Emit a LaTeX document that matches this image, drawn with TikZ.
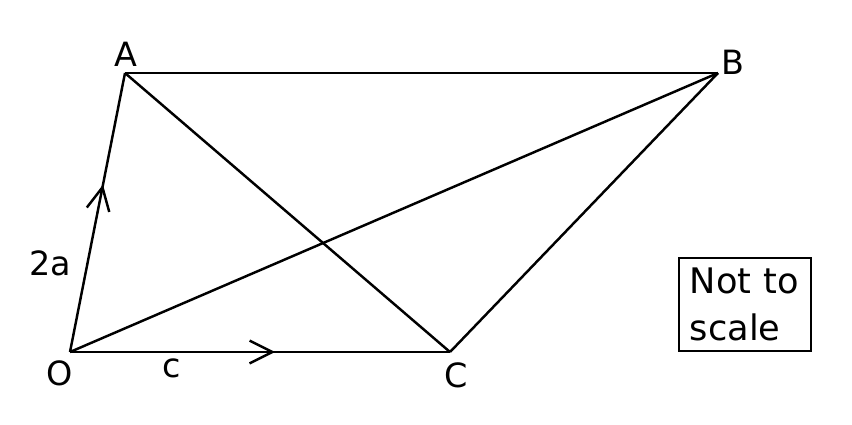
\documentclass[tikz,border=0pt]{standalone}
\usepackage{fontspec}
\setmainfont{DejaVu Sans}
\usetikzlibrary{arrows.meta,decorations.markings}
\begin{document}
\begin{tikzpicture}[x=0.01cm,y=-0.01cm,
  edge/.style={line width=0.7pt},
  lbl/.style={inner sep=0pt,font=\fontsize{9.5}{10}\selectfont},
  midarrow/.style={postaction={decorate},decoration={markings,
    mark=at position #1 with {\arrow{Straight Barb[length=6.5pt,width=6.5pt,line width=0.7pt]}}}}]
\useasboundingbox (0,0) rectangle (852,424);
\coordinate (O) at (70,352);
\coordinate (A) at (125,73);
\coordinate (B) at (718,73);
\coordinate (C) at (450,352);
\draw[edge,midarrow=0.6] (O) -- (A);
\draw[edge,midarrow=0.54] (O) -- (C);
\draw[edge] (A) -- (B);
\draw[edge] (A) -- (C);
\draw[edge] (O) -- (B);
\draw[edge] (C) -- (B);
\node[lbl] (lA) at (126,54) {A};
\node[lbl] (lB) at (733,62) {B};
\node[lbl] (lO) at (60,373) {O};
\node[lbl] (lC) at (456,375) {C};
\node[lbl] (lc) at (172,368) {c};
\node[lbl] (l2a) at (50,263) {2a};
\node[draw,edge,minimum width=1.32cm,minimum height=0.93cm,inner sep=0pt,
  font=\fontsize{10}{13.5}\selectfont,align=left,text width=1.1cm] (note) at (745,304.5) {Not to\\scale};
\end{tikzpicture}
\end{document}
